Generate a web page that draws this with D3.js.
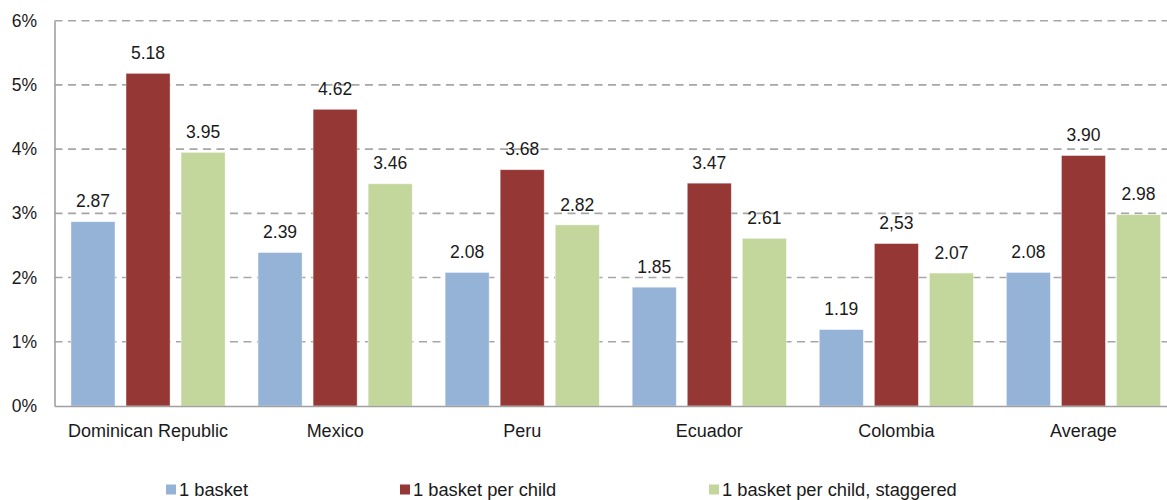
<!DOCTYPE html>
<html>
<head>
<meta charset="utf-8">
<script src="https://cdn.jsdelivr.net/npm/d3@7"></script>
<style>
  body { margin: 0; background: #fff; }
  svg { display: block; font-family: "Liberation Sans", Arial, sans-serif; }
</style>
</head>
<body>
<svg id="chart" width="1167" height="500"></svg>
<script>
// Cost of the food-basket transfer as a share of GDP, by country and scenario
const categories = ["Dominican Republic", "Mexico", "Peru", "Ecuador", "Colombia", "Average"];
const seriesNames = ["1 basket", "1 basket per child", "1 basket per child, staggered"];
const oneBasket = [2.87, 2.39, 2.08, 1.85, 1.19, 2.08];
const perChild = [5.18, 4.62, 3.68, 3.47, 2.53, 3.90];
const perChildStaggered = [3.95, 3.46, 2.82, 2.61, 2.07, 2.98];
const perChildLabelText = ["5.18", "4.62", "3.68", "3.47", "2,53", "3.90"];
const yTicks = [0, 1, 2, 3, 4, 5, 6];
const colors = ["#95b3d7", "#953735", "#c3d69b"];

const seriesValues = [oneBasket, perChild, perChildStaggered];
const fmt = d3.format(".2f");
const labelFor = (s, i) => s === 1 ? perChildLabelText[i] : fmt(seriesValues[s][i]);

const svg = d3.select("#chart");
const plotLeft = 54.5, plotRight = 1177, plotTop = 20.7, plotBottom = 406;
const font = "'Liberation Sans', Arial, sans-serif";

const x = d3.scaleBand().domain(categories).range([plotLeft, plotRight])
  .paddingInner(0.176).paddingOuter(0.088);
const xs = d3.scaleBand().domain(d3.range(3)).range([0, x.bandwidth()]).paddingInner(0.2);
const y = d3.scaleLinear().domain([0, 6]).range([plotBottom, plotTop]);

// dashed gridlines
svg.append("g").selectAll("line").data(yTicks.filter(t => t > 0)).join("line")
  .attr("x1", plotLeft).attr("x2", plotRight)
  .attr("y1", d => y(d)).attr("y2", d => y(d))
  .attr("stroke", "#a6a6a6").attr("stroke-width", 1.6)
  .attr("stroke-dasharray", "8,5.5");

// y axis
const yAxis = svg.append("g").attr("transform", `translate(${plotLeft},0)`)
  .call(d3.axisLeft(y).tickValues(yTicks).tickFormat(d => d + "%").tickSize(0).tickPadding(17.5));
yAxis.select(".domain").attr("stroke", "#a0a0a0").attr("stroke-width", 1.6);
yAxis.selectAll("text").attr("font-size", 17.5).attr("fill", "#1a1a1a")
  .attr("font-family", font);

// bars with value labels
const groups = svg.append("g").selectAll("g").data(categories).join("g")
  .attr("transform", d => `translate(${x(d)},0)`);

groups.each(function(cat, i) {
  const g = d3.select(this);
  seriesValues.forEach((vals, s) => {
    g.append("rect")
      .attr("x", xs(s)).attr("width", xs.bandwidth())
      .attr("y", y(vals[i])).attr("height", y(0) - y(vals[i]))
      .attr("fill", colors[s])
      .attr("stroke", "#ffffff").attr("stroke-opacity", 0.5).attr("stroke-width", 0.8);
    g.append("text")
      .attr("x", xs(s) + xs.bandwidth() / 2)
      .attr("y", y(vals[i]) - 14.4)
      .attr("text-anchor", "middle")
      .attr("font-size", 17.5).attr("fill", "#1a1a1a")
      .text(labelFor(s, i));
  });
});

// x axis
const xAxis = svg.append("g").attr("transform", `translate(0,${plotBottom})`)
  .call(d3.axisBottom(x).tickSize(0).tickPadding(18));
xAxis.select(".domain").attr("stroke", "#a0a0a0").attr("stroke-width", 1.6);
xAxis.selectAll("text").attr("font-size", 18).attr("fill", "#1a1a1a")
  .attr("font-family", font);

// legend
const legendX = [166, 400, 709];
const legend = svg.append("g").selectAll("g").data(seriesNames).join("g")
  .attr("transform", (d, i) => `translate(${legendX[i]},490)`);
legend.append("rect").attr("x", 0).attr("y", -5.5).attr("width", 10).attr("height", 10)
  .attr("fill", (d, i) => colors[i]);
legend.append("text").attr("x", 13).attr("y", 0).attr("dy", "0.35em")
  .attr("font-size", 18.3).attr("fill", "#1a1a1a").text(d => d);
</script>
</body>
</html>
